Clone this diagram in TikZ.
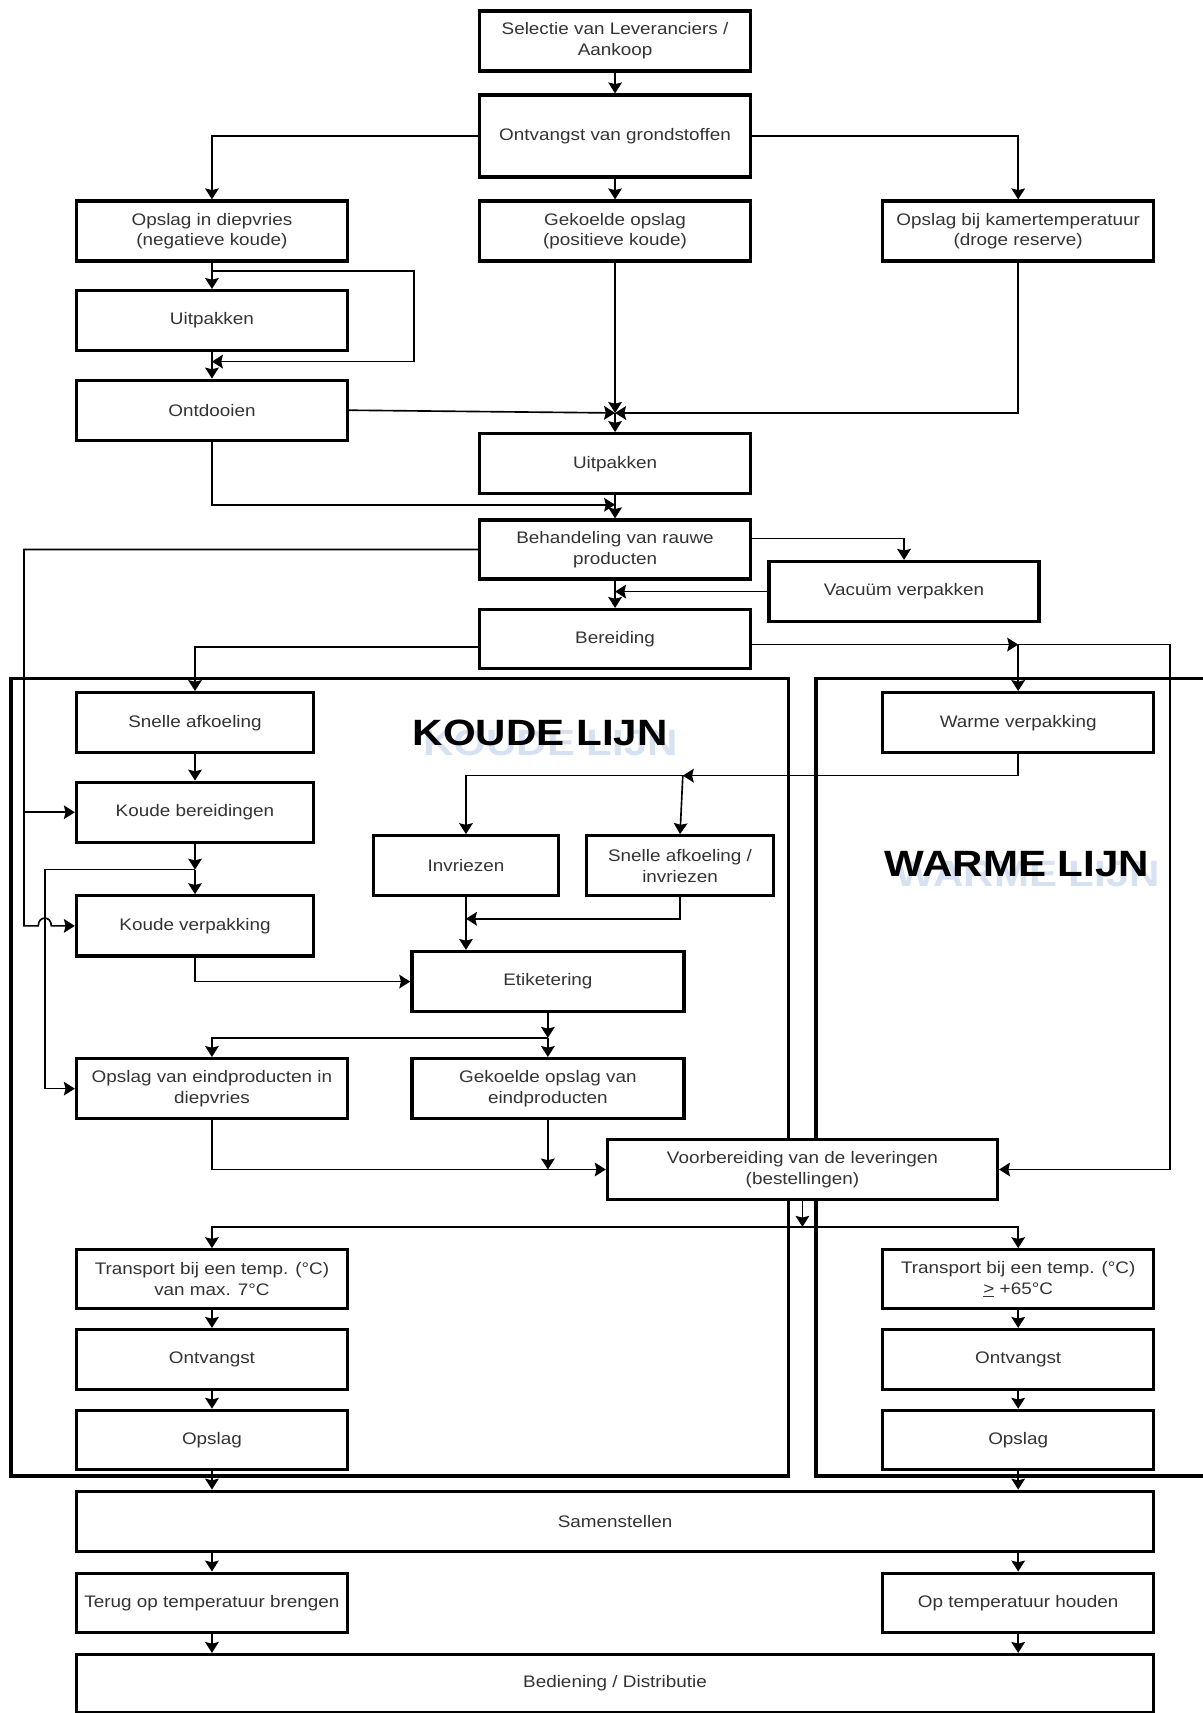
\documentclass[tikz,border=0pt]{standalone}
\usepackage{fontspec}
\setmainfont{Liberation Sans}[FakeStretch=1.13]
\newfontfamily\titelfont{Liberation Sans}[FakeStretch=1.15]
\usetikzlibrary{arrows.meta}
\definecolor{schaduw}{RGB}{214,226,242}

\begin{document}
\begin{tikzpicture}[x=1pt,y=-1pt,>={Stealth[length=10pt,width=12.5pt,inset=1.5pt]}]
\useasboundingbox (0,0) rectangle (1101,1568);
\tikzstyle{blok} = [draw, line width=3pt, fill=white, minimum width=248pt, minimum height=55pt, inner sep=0pt, align=center, text=black!80, font=\fontsize{15.3}{19}\selectfont];
\tikzstyle{smal} = [blok, minimum width=217pt];
\tikzstyle{breed} = [blok, minimum width=986pt];
\tikzstyle{kader} = [draw, line width=3pt];
\tikzstyle{pijl} = [->, line width=1.5pt];
\tikzstyle{titel} = [font=\titelfont\bfseries\fontsize{33.5}{36}\selectfont];

% kaders
\draw[kader] (10,621) rectangle (722,1351);
\draw[kader] (747,621) rectangle (1110,1351);
\node[titel, text=schaduw] (koudeS) at (504,680) {KOUDE LIJN};
\node[titel] (koude) at (494.5,671) {KOUDE LIJN};
\node[titel, text=schaduw] (warmeS) at (941,800) {WARME LIJN};
\node[titel] (warme) at (931,791) {WARME LIJN};

% aankoop en ontvangst
\node[blok] (sel) at (563,37.5) {Selectie van Leveranciers /\\Aankoop};
\node[blok, minimum height=75pt] (ont) at (563,124.5) {Ontvangst van grondstoffen};
\node[blok] (diep) at (194,211.5) {Opslag in diepvries\\(negatieve koude)};
\node[blok] (gek) at (563,211.5) {Gekoelde opslag\\(positieve koude)};
\node[blok] (kamer) at (932,211.5) {Opslag bij kamertemperatuur\\(droge reserve)};
\node[blok] (uitA) at (194,293.5) {Uitpakken};
\node[blok] (ontd) at (194,375.5) {Ontdooien};
\node[blok] (uitB) at (563,424.5) {Uitpakken};
\node[blok, minimum height=54pt] (beh) at (563,503) {Behandeling van rauwe\\producten};
\node[blok, minimum width=247pt] (vac) at (827.5,541.5) {Vacuüm verpakken};
\node[blok, minimum height=54pt] (ber) at (563,585) {Bereiding};

\coordinate (dA) at (194,248);
\coordinate (dB) at (194,331);
\coordinate (J1) at (563,378);
\coordinate (J2) at (563,462);
\coordinate (J9) at (563,541.5);
\coordinate (J7) at (932,590);

\draw[pijl] (sel) -- (ont);
\draw[pijl] (ont.west) -| (diep.north);
\draw[pijl] (ont.east) -| (kamer.north);
\draw[pijl] (ont) -- (gek);
\draw[pijl] (diep) -- (uitA);
\draw[pijl] (dA) -- ++(185,0) |- (dB);
\draw[pijl] (uitA) -- (ontd);
\draw[pijl] (gek) -- (J1);
\draw[pijl] (J1) -- (uitB);
\draw[pijl] (ontd.east) -- (J1);
\draw[pijl] (kamer.south) |- (J1);
\draw[pijl] (ontd.south) |- (J2);
\draw[pijl] (uitB) -- (beh);
\draw[pijl] ([yshift=10pt]beh.east) -| (vac.north);
\draw[pijl] (vac.west) -- (J9);
\draw[pijl] (beh) -- (ber);

% koude lijn
\node[smal] (snel) at (178.5,661.5) {Snelle afkoeling};
\node[smal] (kber) at (178.5,743.5) {Koude bereidingen};
\node[smal] (kverp) at (178.5,847.5) {Koude verpakking};
\node[blok, minimum width=169pt] (invr) at (426.5,792.5) {Invriezen};
\node[blok, minimum width=171pt] (sinv) at (622.5,792.5) {Snelle afkoeling /\\invriezen};
\node[blok, minimum width=249pt] (etik) at (501.5,898.5) {Etiketering};
\node[blok] (opd) at (194,996.5) {Opslag van eindproducten in\\diepvries};
\node[blok, minimum width=249pt] (gop) at (501.5,996.5) {Gekoelde opslag van\\eindproducten};
\node[blok, minimum width=357pt] (voorb) at (734.5,1070.5) {Voorbereiding van de leveringen\\(bestellingen)};
\node[blok, minimum height=54pt] (trK) at (194,1171) {Transport bij een temp. (°C)\\van max. 7°C};
\node[blok] (ontvK) at (194,1244.5) {Ontvangst};
\node[blok, minimum height=54pt] (opK) at (194,1318) {Opslag};

% warme lijn
\node[blok] (warm) at (932,661.5) {Warme verpakking};
\node[blok, minimum height=54pt] (trW) at (932,1171) {Transport bij een temp. (°C)\\\underline{>} +65°C};
\node[blok] (ontvW) at (932,1244.5) {Ontvangst};
\node[blok, minimum height=54pt] (opW) at (932,1318) {Opslag};

\coordinate (bL) at (22,743.5);
\coordinate (J3) at (178.5,796);
\coordinate (J4) at (625,710);
\coordinate (J5) at (426.5,841);
\coordinate (J10) at (501.5,950);
\coordinate (J6) at (501.5,1070.5);
\coordinate (J8) at (734.5,1123);

\draw[pijl] ([yshift=-7pt]ber.west) -| (snel.north);
\draw[pijl] ([yshift=-5pt]ber.east) -- (J7);
\draw[pijl] (J7) -- (warm);
\draw[pijl] (J7) -- ++(139,0) |- (voorb.east);
\draw[pijl] (snel) -- (kber);
\draw[pijl] (beh.west) -| (22,847.5) -- (35,847.5) .. controls (35,838) and (47,838) .. (47,847.5) -- (kverp.west);
\draw[pijl] (bL) -- (kber.west);
\draw[pijl] (kber) -- (J3);
\draw[pijl] (J3) -- (kverp);
\draw[pijl] (J3) -- (41,796) |- (opd.west);
\draw[pijl] (warm.south) |- (J4);
\draw[pijl] (J4) -| (invr.north);
\draw[pijl] (J4) -- (sinv.north);
\draw[pijl] (invr.south) -- (invr.south |- etik.north);
\draw[pijl] (sinv.south) |- (J5);
\draw[pijl] (kverp.south) |- (etik.west);
\draw[pijl] (etik) -- (J10);
\draw[pijl] (J10) -- (gop);
\draw[pijl] (J10) -| (opd.north);
\draw[pijl] (opd.south) |- (voorb.west);
\draw[pijl] (gop) -- (J6);
\draw[pijl] (voorb.south) -- (J8);
\draw[pijl] (J8) -| (trK.north);
\draw[pijl] (J8) -| (trW.north);
\draw[pijl] (trK) -- (ontvK);
\draw[pijl] (ontvK) -- (opK);
\draw[pijl] (trW) -- (ontvW);
\draw[pijl] (ontvW) -- (opW);

% samenstellen en bediening
\node[breed] (sam) at (563,1392.5) {Samenstellen};
\node[blok, minimum height=54pt] (terug) at (194,1467) {Terug op temperatuur brengen};
\node[blok, minimum height=54pt] (houd) at (932,1467) {Op temperatuur houden};
\node[breed, minimum height=53pt] (bed) at (563,1541) {Bediening / Distributie};

\draw[pijl] (opK.south) -- (opK.south |- sam.north);
\draw[pijl] (opW.south) -- (opW.south |- sam.north);
\draw[pijl] (sam.south -| terug.north) -- (terug.north);
\draw[pijl] (sam.south -| houd.north) -- (houd.north);
\draw[pijl] (terug.south) -- (terug.south |- bed.north);
\draw[pijl] (houd.south) -- (houd.south |- bed.north);
\end{tikzpicture}
\end{document}
